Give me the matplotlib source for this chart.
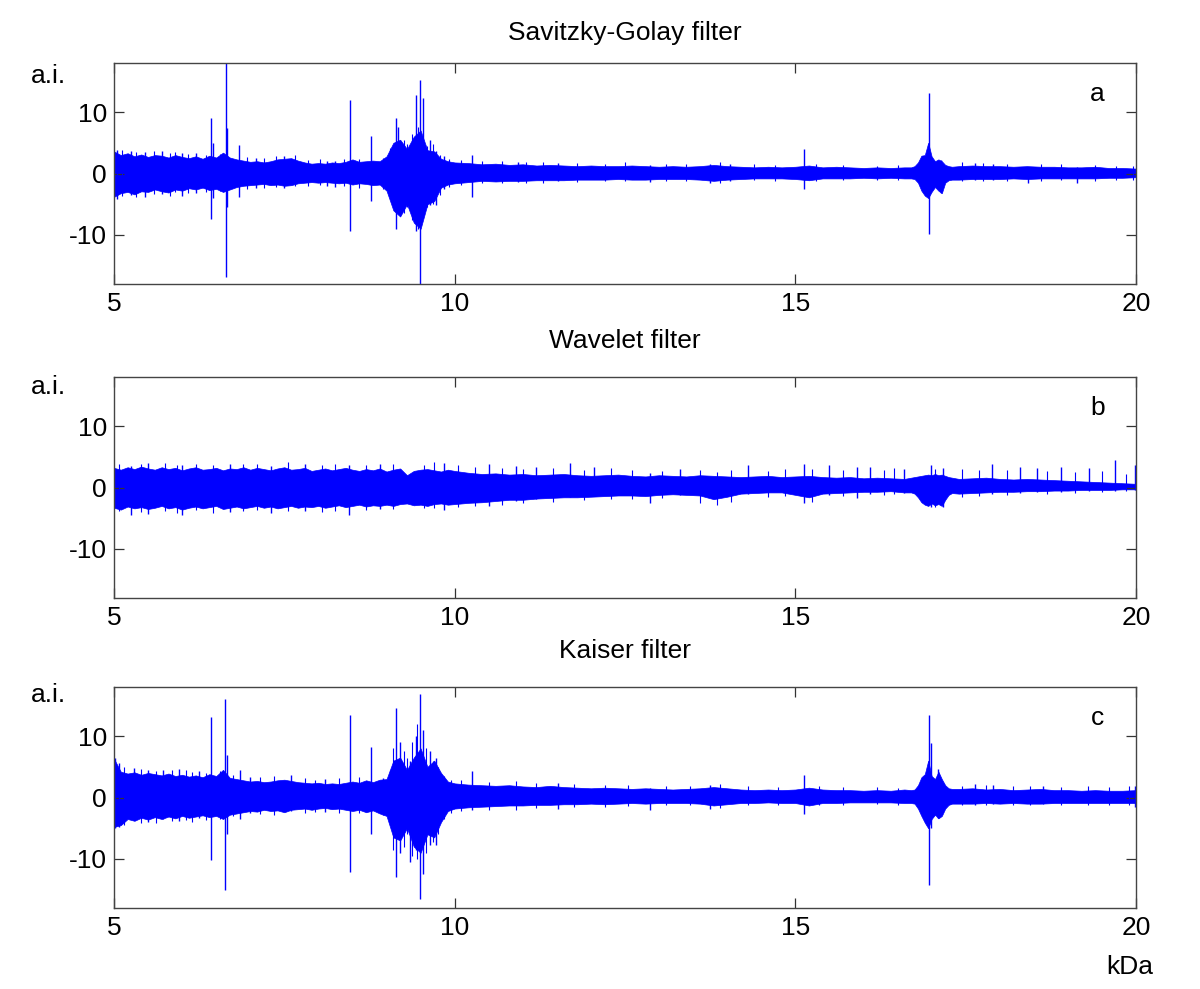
import numpy as np
import matplotlib
matplotlib.use("Agg")
import matplotlib.pyplot as plt

plt.rcParams['font.family'] = ['Liberation Sans', 'DejaVu Sans']

# ---------------- data (kDa / a.i.) ----------------
env_x = [5.0, 5.1, 5.2, 5.3, 5.4, 5.5, 5.6, 5.7, 5.8, 5.9, 6.0, 6.1, 6.2, 6.3, 6.4, 6.5,
         6.6, 6.7, 6.8, 6.9, 7.0, 7.1, 7.2, 7.3, 7.4, 7.5, 7.6, 7.7, 7.8, 7.9, 8.0, 8.1,
         8.2, 8.3, 8.4, 8.5, 8.6, 8.7, 8.8, 8.9, 9.0, 9.1, 9.2, 9.3, 9.4, 9.5, 9.6, 9.7,
         9.8, 9.9, 10.0,
         10.2, 10.4, 10.6, 10.8, 11.0, 11.2, 11.4, 11.6, 11.8, 12.0, 12.2, 12.4, 12.6,
         12.8, 13.0, 13.2, 13.4, 13.6, 13.8, 14.0, 14.2, 14.4, 14.6, 14.8, 15.0, 15.2,
         15.4, 15.6, 15.8, 16.0, 16.2, 16.4, 16.6,
         16.7, 16.75, 16.8, 16.85, 16.9, 16.95, 17.0, 17.05, 17.1, 17.15, 17.2, 17.25, 17.3,
         17.4, 17.6, 17.8, 18.0, 18.2, 18.4, 18.6, 18.8, 19.0, 19.2, 19.4, 19.6, 19.8, 20.0]

# Savitzky-Golay panel (a)
sg_hi = [3.6, 3.0, 3.3, 2.8, 3.1, 2.7, 3.0, 2.9, 2.6, 3.0, 2.7, 2.5, 2.8, 2.4, 2.9, 2.6,
         3.4, 2.6, 2.3, 2.1, 1.9, 2.0, 1.8, 2.0, 2.3, 2.4, 2.5, 2.1, 1.8, 1.6, 1.7, 1.6,
         1.8, 1.7, 1.9, 2.3, 1.9, 2.0, 2.1, 2.0, 2.8, 5.0, 5.5, 4.0, 6.0, 7.0, 3.8, 3.6,
         2.4, 2.0, 1.8,
         1.7, 1.5, 1.6, 1.4, 1.5, 1.3, 1.4, 1.3, 1.2, 1.3, 1.2, 1.2, 1.3, 1.2, 1.1, 1.2,
         1.1, 1.2, 1.4, 1.2, 1.1, 1.0, 1.1, 1.0, 1.1, 1.3, 1.0, 1.1, 1.0, 0.9, 1.0, 0.9, 1.0,
         1.0, 1.2, 1.8, 2.9, 3.0, 5.0, 2.8, 2.0, 2.3, 2.0, 1.4, 1.2, 1.1,
         1.2, 1.3, 1.2, 1.2, 1.1, 1.2, 1.1, 1.1, 1.0, 1.0, 1.1, 0.9, 0.9, 0.8]
sg_lo = [-3.8, -3.2, -3.0, -3.4, -2.9, -3.0, -2.6, -2.9, -3.1, -2.6, -2.8, -2.4, -2.6, -2.3,
         -2.7, -2.5, -3.0, -2.6, -2.2, -2.0, -1.9, -1.8, -1.7, -1.9, -1.8, -2.0, -1.9, -1.6,
         -1.5, -1.4, -1.5, -1.4, -1.5, -1.6, -1.5, -1.8, -1.6, -1.7, -1.9, -1.8, -2.8, -6.0,
         -7.0, -5.0, -8.0, -9.0, -5.0, -4.5, -2.3, -1.8, -1.6,
         -1.4, -1.2, -1.3, -1.2, -1.2, -1.1, -1.1, -1.1, -1.0, -1.0, -1.0, -0.9, -1.0, -1.0,
         -0.9, -0.9, -0.9, -1.0, -1.2, -1.0, -0.9, -0.8, -0.8, -0.8, -0.9, -1.1, -0.8, -0.8,
         -0.8, -0.7, -0.8, -0.7, -0.8,
         -0.8, -0.9, -1.5, -2.8, -3.6, -4.0, -3.0, -2.2, -2.8, -3.2, -1.5, -1.1, -1.0,
         -1.0, -0.9, -0.9, -0.9, -0.8, -0.9, -0.8, -0.8, -0.8, -0.8, -0.8, -0.7, -0.7, -0.6]
sg_spk_x = [5.05, 5.25, 5.45, 5.7, 6.0, 6.2, 6.43, 6.46, 6.64, 6.66, 6.84, 7.08, 7.5, 8.12,
            8.25, 8.47, 8.77, 9.14, 9.17, 9.21, 9.43, 9.49, 9.53, 9.64, 9.72, 9.85, 10.26,
            10.93, 11.51, 12.87, 13.75, 14.04, 15.13, 16.96, 17.14, 17.64, 17.9, 18.42, 19.14]
sg_spk_hi = [3.9, 3.6, 3.5, 3.7, 3.4, 3.3, 9.0, 5.0, 18.5, 7.4, 4.7, 2.6, 2.9, 2.1,
             2.0, 11.9, 6.1, 9.0, 7.6, 5.0, 12.8, 15.2, 12.3, 5.5, 3.6, 2.8, 3.0,
             1.9, 1.7, 1.4, 1.6, 1.6, 4.0, 13.1, 2.2, 1.7, 1.6, 1.0, 1.0]
sg_spk_lo = [-4.2, -3.5, -3.8, -3.3, -3.6, -3.2, -7.4, -4.0, -16.8, -5.5, -3.8, -2.4, -2.3,
             -2.0, -2.2, -9.3, -4.4, -9.0, -6.0, -6.3, -9.3, -18.5, -7.0, -5.2, -5.2, -2.6,
             -3.8, -1.4, -1.3, -1.4, -1.6, -1.2, -2.5, -9.8, -3.2, -1.0, -1.0, -1.5, -1.6]
sg_hair_x = [5.12, 5.33, 5.58, 5.82, 5.9, 6.08, 6.35, 6.55, 6.95, 7.2, 7.38, 7.65, 7.85,
             8.02, 8.38, 8.6, 8.95, 9.05, 9.26, 9.3, 9.37, 9.46, 9.59, 9.68, 9.78, 9.92,
             10.1, 10.4, 10.7, 11.05, 11.3, 11.8, 12.2, 12.5, 13.1, 13.4, 13.9, 14.4, 14.7,
             15.3, 15.7, 16.2, 16.5, 17.45, 17.75, 18.1, 18.6, 18.9, 19.4, 19.7, 19.95]
sg_hair_hi = [3.8, 3.5, 3.6, 3.3, 3.5, 3.2, 3.0, 3.2, 2.7, 2.5, 2.8, 3.0, 2.2,
              2.3, 2.4, 2.4, 2.6, 4.2, 5.5, 4.8, 6.5, 7.5, 4.5, 4.8, 3.0, 2.3,
              2.2, 2.0, 2.1, 1.8, 1.9, 1.7, 1.6, 1.8, 1.5, 1.6, 1.8, 1.5, 1.4,
              1.5, 1.4, 1.3, 1.4, 1.9, 1.7, 1.6, 1.6, 1.5, 1.4, 1.3, 1.2]
sg_hair_lo = [-3.6, -3.9, -3.3, -3.6, -3.0, -3.1, -3.0, -2.9, -2.5, -2.3, -2.2, -2.1, -2.0,
              -1.9, -2.0, -2.3, -2.5, -4.0, -6.5, -5.5, -7.5, -9.0, -5.5, -5.0, -3.5, -2.2,
              -1.8, -1.6, -1.5, -1.6, -1.5, -1.4, -1.3, -1.2, -1.3, -1.2, -1.5, -1.1, -1.2,
              -1.2, -1.1, -1.1, -1.0, -1.3, -1.2, -1.3, -1.2, -1.1, -1.2, -1.0, -1.0]

# Wavelet panel (b)
wv_hi = [3.2, 2.9, 3.3, 3.0, 3.4, 3.1, 2.9, 3.3, 3.0, 3.2, 2.8, 3.1, 3.3, 2.9, 3.0, 3.2,
         2.8, 3.1, 3.0, 3.3, 2.9, 3.2, 3.0, 2.8, 3.1, 3.3, 2.9, 3.0, 3.2, 2.7, 2.9, 3.1,
         2.8, 3.0, 3.2, 2.9, 2.7, 3.0, 2.8, 3.1, 2.6, 2.9, 3.1, 2.0, 2.7, 2.9, 3.0, 2.8,
         2.6, 2.9, 2.7,
         2.4, 2.2, 2.3, 2.1, 2.2, 2.0, 2.1, 2.2, 2.0, 1.9, 2.0, 2.1, 1.9, 1.8, 2.0, 1.9,
         1.8, 2.0, 1.9, 1.8, 1.7, 1.8, 1.9, 1.7, 1.8, 1.9, 1.7, 1.6, 1.7, 1.5, 1.6, 1.5, 1.4,
         1.6, 1.7, 1.8, 1.9, 2.0, 2.1, 2.0, 2.2, 2.0, 2.1, 1.9, 1.7, 1.6,
         1.4, 1.5, 1.6, 1.4, 1.3, 1.4, 1.3, 1.2, 1.1, 1.0, 0.9, 0.8, 0.7, 0.6]
wv_lo = [-3.3, -3.6, -3.1, -3.4, -3.2, -3.5, -3.3, -3.0, -3.4, -3.2, -3.6, -3.3, -3.1, -3.4,
         -3.2, -3.0, -3.5, -3.3, -3.1, -3.4, -3.2, -3.0, -3.3, -3.1, -3.4, -3.2, -3.0, -3.3,
         -3.1, -3.2, -3.0, -3.3, -3.1, -2.9, -3.2, -3.0, -2.8, -3.1, -2.9, -3.0, -2.8, -3.0,
         -2.7, -2.6, -2.9, -2.8, -3.0, -2.7, -2.6, -2.8, -2.7,
         -2.5, -2.4, -2.2, -2.0, -2.0, -1.8, -1.7, -1.6, -1.6, -1.5, -1.4, -1.3, -1.3, -1.4,
         -1.2, -1.1, -1.2, -1.3, -1.9, -1.5, -1.0, -0.9, -0.8, -0.8, -1.2, -1.6, -1.0, -0.9,
         -0.8, -0.7, -0.7, -0.6, -0.8,
         -0.8, -1.0, -1.6, -2.4, -2.8, -3.0, -2.6, -2.9, -2.7, -3.0, -2.0, -1.2, -0.9,
         -1.0, -0.9, -0.8, -0.7, -0.7, -0.6, -0.6, -0.5, -0.5, -0.4, -0.4, -0.4, -0.3, -0.3]
wv_spk_x = [5.25, 5.5, 6.0, 6.7, 7.3, 7.8, 8.45, 8.9, 9.85, 10.5, 10.9, 11.2, 11.69, 12.05,
            12.87, 13.3, 14.3, 15.12, 15.5, 15.9, 16.1, 16.6, 16.99, 17.16, 17.89, 18.3,
            18.55, 18.9, 19.31, 19.69, 19.98]
wv_spk_hi = [3.5, 4.0, 3.7, 3.8, 3.5, 3.9, 3.6, 3.8, 4.0, 3.8, 3.5, 3.3, 4.0, 3.3,
             2.4, 3.0, 3.6, 3.9, 3.6, 3.3, 3.4, 3.0, 3.7, 3.2, 3.9, 3.4,
             3.2, 3.3, 3.2, 4.5, 3.7]
wv_spk_lo = [-4.5, -4.3, -4.5, -4.0, -4.2, -3.8, -4.5, -3.5, -3.6, -3.0, -2.2, -1.8, -1.5,
             -1.4, -2.6, -1.2, -1.0, -2.5, -1.2, -1.7, -1.0, -0.9, -3.1, -3.1, -1.0, -0.9,
             -0.8, -0.7, -0.6, -0.5, -0.4]
wv_hair_x = [5.08, 5.4, 5.75, 5.92, 6.2, 6.45, 6.9, 7.1, 7.55, 8.05, 8.25, 8.7, 9.1, 9.55,
             9.7, 10.05, 10.3, 10.7, 11.0, 11.45, 11.9, 12.3, 12.6, 13.05, 13.6, 13.85,
             14.05, 14.6, 14.85, 15.25, 15.7, 16.3, 16.45, 17.05, 17.45, 17.7, 18.1, 18.7,
             19.1, 19.5, 19.85]
wv_hair_hi = [3.9, 3.8, 4.0, 3.6, 3.9, 3.7, 3.9, 3.8, 4.1, 3.7, 3.9, 3.6, 3.9, 3.7,
              4.1, 3.6, 3.4, 3.2, 3.0, 3.1, 2.9, 3.2, 2.8, 2.7, 2.9, 2.6,
              2.8, 2.7, 3.0, 3.0, 2.9, 2.8, 3.1, 3.0, 3.0, 2.9, 2.8, 2.7,
              2.5, 2.7, 2.2]
wv_hair_lo = [-3.9, -4.0, -3.8, -4.2, -3.7, -4.1, -3.9, -3.6, -3.9, -4.0, -3.8, -3.7, -3.5,
              -3.4, -3.3, -3.2, -3.0, -2.8, -2.5, -2.3, -2.1, -1.8, -1.8, -1.7, -2.6, -2.9,
              -2.4, -1.5, -1.4, -2.3, -1.4, -1.2, -1.1, -3.2, -1.6, -1.4, -1.2, -1.0,
              -0.9, -0.8, -0.6]

# Kaiser panel (c)
ks_hi = [6.3, 4.2, 3.9, 4.1, 3.7, 4.0, 3.8, 3.6, 3.9, 3.5, 3.7, 3.4, 3.6, 3.3, 3.8, 3.5,
         4.5, 3.2, 3.0, 2.8, 2.6, 2.7, 2.5, 2.6, 2.8, 2.9, 2.7, 2.5, 2.4, 2.3, 2.4, 2.2,
         2.3, 2.2, 2.4, 2.6, 2.4, 2.8, 2.5, 2.9, 3.0, 6.0, 6.5, 4.5, 6.5, 8.0, 5.0, 6.0,
         4.0, 2.6, 2.3,
         2.1, 2.0, 1.9, 2.0, 1.8, 1.7, 1.9, 1.7, 1.6, 1.5, 1.6, 1.5, 1.4, 1.5, 1.4, 1.3,
         1.4, 1.5, 1.7, 1.5, 1.3, 1.2, 1.3, 1.2, 1.3, 1.6, 1.3, 1.2, 1.2, 1.1, 1.2, 1.1, 1.3,
         1.2, 1.3, 2.0, 3.3, 3.8, 6.0, 3.5, 3.0, 4.2, 3.0, 2.0, 1.5, 1.4,
         1.4, 1.5, 1.3, 1.4, 1.2, 1.3, 1.4, 1.2, 1.2, 1.1, 1.2, 1.1, 1.1, 1.2]
ks_lo = [-4.8, -4.5, -3.5, -3.8, -3.3, -3.6, -3.2, -3.5, -3.1, -3.4, -3.0, -3.3, -3.1, -2.9,
         -3.2, -3.0, -3.5, -2.8, -2.6, -2.4, -2.2, -2.3, -2.0, -2.2, -2.1, -2.4, -2.0, -1.9,
         -1.8, -2.0, -1.8, -1.7, -1.9, -1.8, -2.0, -2.2, -2.0, -2.4, -2.1, -2.6, -3.0, -6.5,
         -7.0, -5.0, -8.0, -9.0, -6.0, -6.5, -4.0, -2.2, -1.8,
         -1.6, -1.5, -1.4, -1.3, -1.3, -1.2, -1.2, -1.1, -1.1, -1.0, -1.1, -1.0, -0.9, -1.0,
         -0.9, -0.9, -0.9, -1.0, -1.3, -1.1, -0.9, -0.9, -0.8, -0.9, -0.9, -1.3, -0.9, -0.9,
         -0.8, -0.8, -0.8, -0.8, -0.9,
         -0.9, -1.0, -1.8, -3.0, -4.1, -5.0, -3.5, -2.8, -3.4, -3.0, -1.8, -1.2, -1.0,
         -1.0, -1.0, -0.9, -1.0, -0.9, -1.0, -1.0, -0.9, -0.9, -0.9, -0.9, -0.9, -0.9, -0.9]
ks_spk_x = [5.02, 5.08, 5.3, 5.5, 5.72, 5.95, 6.25, 6.43, 6.63, 6.66, 6.85, 7.0, 7.6, 8.1,
            8.47, 8.77, 8.95, 9.14, 9.2, 9.35, 9.43, 9.49, 9.53, 9.64, 9.72, 10.26, 11.51,
            12.87, 13.75, 15.13, 16.96, 16.99, 17.1, 17.64, 17.9, 18.63, 19.98]
ks_spk_hi = [6.5, 5.6, 4.8, 4.5, 4.4, 4.6, 4.3, 13.1, 16.0, 7.0, 4.5, 3.3, 3.6, 3.0,
             13.4, 8.3, 3.2, 14.6, 9.0, 6.0, 10.0, 16.8, 11.0, 7.6, 6.5, 4.3, 2.3,
             1.5, 2.0, 3.6, 13.5, 8.8, 4.7, 2.2, 2.1, 1.9, 1.9]
ks_spk_lo = [-5.0, -4.8, -3.7, -4.0, -3.5, -3.9, -3.3, -10.2, -15.1, -6.0, -3.5, -2.6, -2.2,
             -2.3, -12.1, -5.9, -2.8, -12.9, -9.0, -10.5, -8.5, -16.5, -12.5, -7.8, -7.8,
             -2.0, -1.8, -2.1, -1.8, -2.7, -14.2, -5.0, -3.4, -1.2, -1.1, -1.0, -1.5]
ks_hair_x = [5.15, 5.4, 5.62, 5.85, 6.05, 6.15, 6.35, 6.55, 6.75, 7.15, 7.35, 7.8, 7.95, 8.3,
             8.6, 9.05, 9.1, 9.25, 9.3, 9.38, 9.45, 9.58, 9.68, 9.76, 9.85, 9.95, 10.1,
             10.5, 10.9, 11.2, 11.75, 12.2, 12.55, 13.1, 13.45, 13.9, 14.3, 14.75, 15.35,
             15.7, 16.2, 16.5, 17.45, 17.8, 18.2, 18.45, 18.9, 19.3, 19.6, 19.9]
ks_hair_hi = [5.0, 4.7, 4.3, 4.5, 4.4, 4.2, 4.0, 4.3, 3.6, 3.4, 3.5, 3.2, 2.9, 3.1,
              3.3, 4.5, 8.0, 7.5, 6.5, 9.0, 12.0, 8.0, 6.0, 5.0, 3.5, 2.8, 2.8,
              2.6, 2.7, 2.4, 2.2, 2.0, 2.1, 1.9, 1.8, 2.2, 1.8, 1.7, 1.8,
              1.7, 1.7, 1.6, 1.9, 2.0, 1.8, 1.9, 1.7, 1.8, 1.7, 1.8]
ks_hair_lo = [-4.5, -4.2, -4.1, -3.8, -3.7, -4.0, -3.6, -3.5, -3.0, -2.7, -2.9, -2.5, -2.4,
              -2.6, -2.5, -4.0, -8.5, -8.0, -6.0, -9.5, -10.0, -9.0, -7.2, -6.0, -3.5, -2.5,
              -2.2, -2.0, -2.0, -1.7, -1.6, -1.5, -1.4, -1.3, -1.3, -1.7, -1.3, -1.2, -1.3,
              -1.2, -1.1, -1.2, -1.3, -1.3, -1.3, -1.2, -1.3, -1.2, -1.3, -1.3]

titles = ["Savitzky-Golay filter", "Wavelet filter", "Kaiser filter"]
letters = ["a", "b", "c"]
x_ticks = [5, 10, 15, 20]
y_ticks = [-10, 0, 10]

panels = [(sg_hi, sg_lo, sg_spk_x, sg_spk_hi, sg_spk_lo, sg_hair_x, sg_hair_hi, sg_hair_lo),
          (wv_hi, wv_lo, wv_spk_x, wv_spk_hi, wv_spk_lo, wv_hair_x, wv_hair_hi, wv_hair_lo),
          (ks_hi, ks_lo, ks_spk_x, ks_spk_hi, ks_spk_lo, ks_hair_x, ks_hair_hi, ks_hair_lo)]

# ---------------- figure ----------------
W, H = 1200, 989
fig = plt.figure(figsize=(W / 100, H / 100), dpi=100)

axes_px = [(63, 284), (377, 598), (687, 908)]   # top, bottom in pixels
title_y = [33, 341, 651]
ai_y = [76, 387, 695]
left_px, right_px = 114, 1136
blue = '#0000ff'
fs = 19

for i, (hi, lo, sx, shi, slo, hx, hhi, hlo) in enumerate(panels):
    top, bot = axes_px[i]
    ax = fig.add_axes([left_px / W, 1 - bot / H, (right_px - left_px) / W, (bot - top) / H])
    ax.fill_between(env_x, lo, hi, color=blue, linewidth=0.5)
    ax.vlines(hx, hlo, hhi, color=blue, linewidth=0.8)
    ax.vlines(sx, slo, shi, color=blue, linewidth=1.0)
    ax.set_xlim(5, 20)
    ax.set_ylim(-18, 18)
    ax.set_xticks(x_ticks)
    ax.set_yticks(y_ticks)
    ax.set_xticklabels([str(v) for v in x_ticks])
    ax.set_yticklabels([str(v) for v in y_ticks])
    ax.tick_params(direction='in', length=7, width=0.9, top=True, right=True,
                   labelsize=fs, color='#333333', pad=6)
    ax.tick_params(axis='y', pad=5)
    for s in ax.spines.values():
        s.set_color('#444444')
        s.set_linewidth(1.0)
    fig.text(625 / W, 1 - title_y[i] / H, titles[i], ha='center', va='center', fontsize=fs)
    fig.text(48 / W, 1 - ai_y[i] / H, "a.i.", ha='center', va='center', fontsize=fs)
    ax.text(0.962, 0.86, letters[i], transform=ax.transAxes, ha='center', va='center',
            fontsize=fs)

fig.text(1130 / W, 1 - 967 / H, "kDa", ha='center', va='center', fontsize=fs)

fig.savefig("out.png", dpi=100)
